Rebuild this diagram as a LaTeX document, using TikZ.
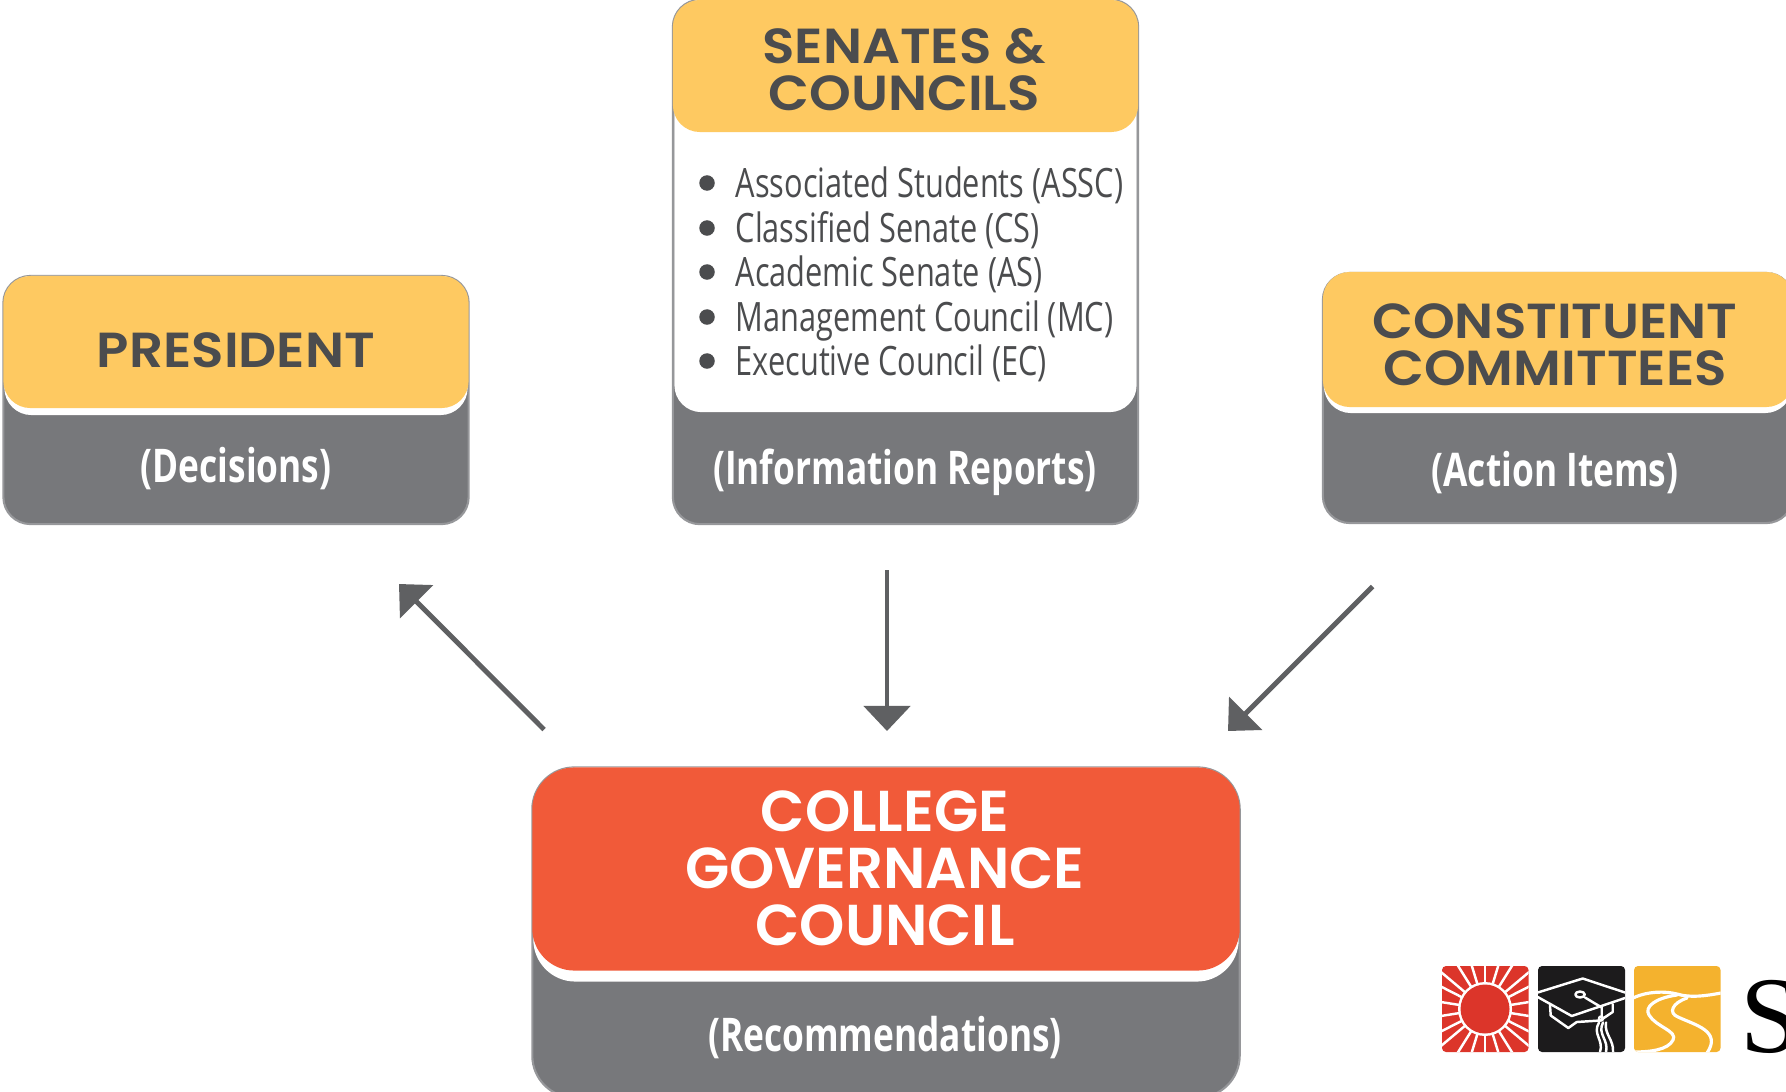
\documentclass[tikz,border=0pt]{standalone}
\usepackage{fontspec}
\setmainfont{Lato}
\newfontfamily\headfont[FakeStretch=1.08]{Poppins SemiBold}
\newfontfamily\redfont[FakeStretch=1.0]{Poppins SemiBold}
\newfontfamily\bodyfont[FakeStretch=0.76]{Open Sans}
\newfontfamily\logofont{Liberation Serif}
\usetikzlibrary{arrows.meta}
\definecolor{ygold}{HTML}{FEC961}
\definecolor{greybox}{HTML}{77787B}
\definecolor{greyedge}{HTML}{96979A}
\definecolor{darktext}{HTML}{4B4C4E}
\definecolor{redbox}{HTML}{F15A39}
\definecolor{arrowc}{HTML}{5F6062}
\definecolor{logored}{HTML}{DC352A}
\definecolor{logoblack}{HTML}{1C1B1C}
\definecolor{logogold}{HTML}{F4B22E}
\tikzset{
  x=0.01cm,y=-0.01cm,
  boxbase/.style={inner sep=0pt,outer sep=0pt,rounded corners=0.27cm},
  greyshape/.style={boxbase,fill=greybox,draw=greyedge,line width=0.6pt},
  whiteshape/.style={boxbase,fill=white},
  goldshape/.style={boxbase,fill=ygold},
  redshape/.style={boxbase,fill=redbox,rounded corners=0.42cm},
  headtext/.style={align=center,text=darktext,font=\fontsize{14}{13.4}\headfont},
  redtext/.style={align=center,text=white,font=\fontsize{16.4}{16.2}\redfont},
  subtext/.style={text=white,font=\fontsize{13.2}{14}\bodyfont\bfseries},
  listtext/.style={anchor=base west,inner sep=0pt,text=darktext,font=\fontsize{11.5}{12}\bodyfont},
  bulletdot/.style={circle,fill=darktext,minimum size=0.155cm,inner sep=0pt},
  flow/.style={draw=arrowc,line width=1.4pt,-{Triangle[length=0.25cm,width=0.46cm]}},
  logoline/.style={draw=white,line width=0.7pt,line cap=round,line join=round},
}
\begin{document}
\begin{tikzpicture}
\useasboundingbox (0,0) rectangle (1786,1091);
\clip (0,0) rectangle (1786,1091);
% President
\node[greyshape,minimum width=4.65cm,minimum height=2.48cm] (pg) at (236,400) {};
\node[whiteshape,minimum width=4.63cm,minimum height=1.39cm] (pw) at (236,345.5) {};
\node[goldshape,minimum width=4.65cm,minimum height=1.32cm] (py) at (236,342) {};
\node[headtext] (pt) at (236,350) {PRESIDENT};
\node[subtext] (ps) at (236,469) {(Decisions)};
% Senates
\node[greyshape,minimum width=4.65cm,minimum height=5.24cm] (sg) at (905.5,262) {};
\node[whiteshape,minimum width=4.62cm,minimum height=4.12cm] (sw) at (905.5,206) {};
\node[goldshape,minimum width=4.65cm,minimum height=1.32cm] (sy) at (905.5,66) {};
\node[headtext] (st) at (904,70) {SENATES \&\\COUNCILS};
\foreach \yy/\by/\nn/\tt in {183/197/a/Associated Students (ASSC),228/242/b/Classified Senate (CS),272/286.5/c/Academic Senate (AS),317/331/d/Management Council (MC),361/375.5/e/Executive Council (EC)}{
  \node[bulletdot] (dot\nn) at (707,\yy) {};
  \node[listtext] (li\nn) at (735,\by) {\tt};
}
\node[subtext] (ss) at (905,472) {(Information Reports)};
% Constituent
\node[greyshape,minimum width=4.7cm,minimum height=2.5cm] (cg) at (1558,398) {};
\node[whiteshape,minimum width=4.68cm,minimum height=1.41cm] (cw) at (1558,342.5) {};
\node[goldshape,minimum width=4.7cm,minimum height=1.35cm] (cy) at (1558,339.5) {};
\node[headtext] (ct) at (1555,345) {CONSTITUENT\\COMMITTEES};
\node[subtext] (cs) at (1555,473) {(Action Items)};
% College
\node[greyshape,rounded corners=0.42cm,minimum width=7.07cm,minimum height=3.3cm] (gg) at (886,932.5) {};
\node[whiteshape,rounded corners=0.42cm,minimum width=7.05cm,minimum height=2.14cm] (gw) at (886,874.5) {};
\node[redshape,minimum width=7.07cm,minimum height=2.03cm] (gy) at (886,869) {};
\node[redtext] (gt) at (885,868) {COLLEGE\\GOVERNANCE\\COUNCIL};
\node[subtext] (gs) at (885,1038) {(Recommendations)};
% Arrows
\coordinate (a1s) at (544,729.5);
\coordinate (a1e) at (399,584);
\coordinate (a2s) at (887,570);
\coordinate (a2e) at (887,731);
\coordinate (a3s) at (1372.5,586.5);
\coordinate (a3e) at (1228,731);
\draw[flow] (a1s) -- (a1e);
\draw[flow] (a2s) -- (a2e);
\draw[flow] (a3s) -- (a3e);
% Logo: sun
\begin{scope}
\fill[logored,rounded corners=0.04cm] (1442,966) rectangle (1528.5,1052);
\clip[rounded corners=0.04cm] (1442,966) rectangle (1528.5,1052);
\foreach \aa in {9,27,40,58,73,90,107,122,140,153,171,189,207,220,238,253,270,287,302,320,333,351}{
  \draw[logoline] (1485,1009) -- ++(\aa:70);
}
\fill[white] (1485,1009) circle (27);
\fill[logored] (1485,1009) circle (24.5);
\end{scope}
% Logo: cap
\begin{scope}
\fill[logoblack,rounded corners=0.04cm] (1538,966) rectangle (1625,1052);
\clip[rounded corners=0.04cm] (1538,966) rectangle (1625,1052);
\draw[logoline] (1537.7,992.5) -- (1582.7,978.5) -- (1625,992.5);
\draw[logoline] (1537.7,997) -- (1571.7,1016) -- (1625,998);
\draw[logoline] (1550,1005.5) -- (1550.7,1015.5) -- (1568.3,1028) -- (1576.7,1022) -- (1600,1020.5) -- (1612.7,1012) -- (1612.7,1004);
\draw[logoline] (1585,997.5) -- (1601.7,1007.5) -- (1601.7,1016.5);
\draw[logoline] (1580,994.5) ellipse (4.7 and 3);
\draw[logoline] (1601,1018.5) circle (2);
\draw[logoline] (1599,1022.5) .. controls (1592,1034) and (1604,1040) .. (1600,1052);
\draw[logoline] (1603,1022.5) .. controls (1597,1034) and (1609,1040) .. (1606,1052);
\draw[logoline] (1606,1022.5) .. controls (1604,1034) and (1614,1040) .. (1613,1052);
\end{scope}
% Logo: road
\begin{scope}
\fill[logogold,rounded corners=0.04cm] (1634,966) rectangle (1720.5,1052);
\clip[rounded corners=0.04cm] (1634,966) rectangle (1720.5,1052);
\draw[logoline,line width=0.9pt] (1633,998) .. controls (1648,991) and (1665,991) .. (1677,994) .. controls (1690,998) and (1705,996) .. (1721,993);
\draw[logoline,line width=0.9pt] (1677,995) .. controls (1655,998) and (1644,1007) .. (1649,1015) .. controls (1656,1027) and (1678,1031) .. (1673,1040) .. controls (1668,1050) and (1650,1052) .. (1633,1052);
\draw[logoline,line width=0.9pt] (1687,998) .. controls (1672,1003) and (1668,1013) .. (1678,1017) .. controls (1695,1025) and (1722,1031) .. (1707,1053);
\end{scope}
\node[anchor=base west,inner sep=0pt,text=black,font=\fontsize{31}{31}\logofont] (logos) at (1740,1052) {S};
\end{tikzpicture}
\end{document}
